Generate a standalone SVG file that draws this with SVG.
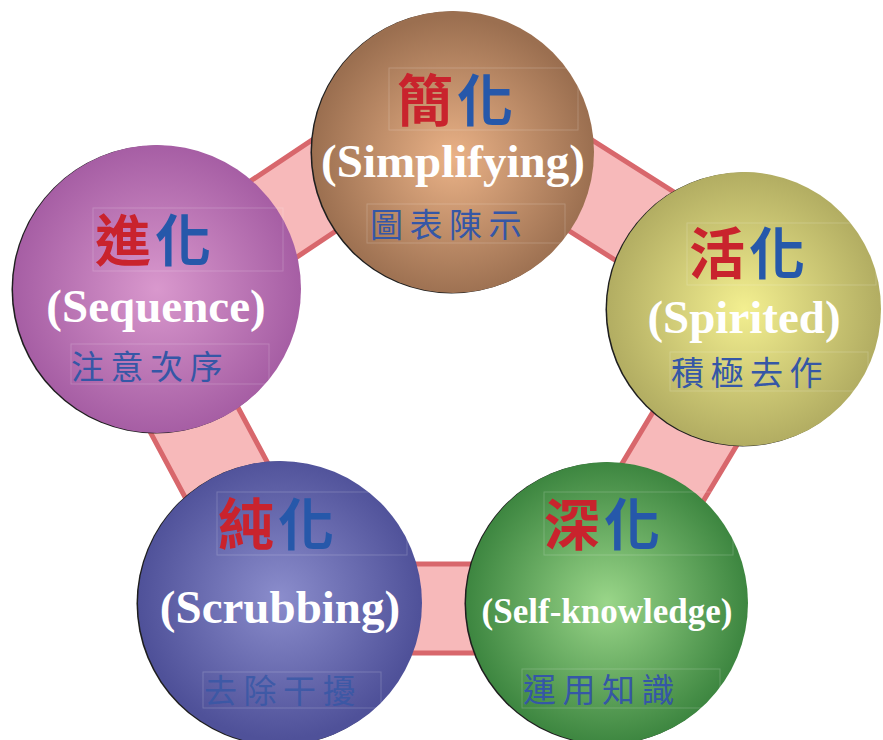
<svg xmlns="http://www.w3.org/2000/svg" width="883" height="740" viewBox="0 0 883 740">
<style>
.ring-edge{fill:none;stroke:#d8676c;stroke-width:94;stroke-linejoin:miter}
.ring-fill{fill:none;stroke:#f7b9ba;stroke-width:84;stroke-linejoin:miter}
.shadow{fill:#1e1e1e}
.title{font-family:"Noto Sans CJK TC","Noto Sans CJK SC",sans-serif;font-size:56px;font-weight:700;letter-spacing:4px}
.red{fill:#c9232d}
.blue{fill:#2658aa}
.en{font-family:"Liberation Serif","Times New Roman",serif;font-weight:700;fill:#ffffff;text-anchor:middle}
.sub{font-family:"Noto Sans CJK TC","Noto Sans CJK SC",sans-serif;font-size:33px;font-weight:400;letter-spacing:6.5px;fill:#3557a6}
.frame{fill:none;stroke:#ffffff;stroke-opacity:0.18;stroke-width:1}
</style>
<defs>
<radialGradient id="gBrown" cx="50%" cy="52%" r="50%">
<stop offset="0" stop-color="#eab287"/>
<stop offset="1" stop-color="#9b6f50"/>
</radialGradient>
<radialGradient id="gPurple" cx="50%" cy="50%" r="50%">
<stop offset="0" stop-color="#d998cd"/>
<stop offset="1" stop-color="#a65ea4"/>
</radialGradient>
<radialGradient id="gYellow" cx="50%" cy="50%" r="50%">
<stop offset="0" stop-color="#f3ef90"/>
<stop offset="1" stop-color="#b2ad62"/>
</radialGradient>
<radialGradient id="gBlue" cx="50%" cy="48%" r="50%">
<stop offset="0" stop-color="#8b8dcc"/>
<stop offset="1" stop-color="#4f5199"/>
</radialGradient>
<radialGradient id="gGreen" cx="50%" cy="50%" r="50%">
<stop offset="0" stop-color="#9ad689"/>
<stop offset="1" stop-color="#3d8640"/>
</radialGradient>
</defs>

<g id="connectors">
<polygon class="ring-edge" points="449,102 769,305 587,608.5 295,608.5 136,311"/>
<polygon class="ring-fill" points="449,102 769,305 587,608.5 295,608.5 136,311"/>
</g>

<g id="node-simplifying">
<circle class="shadow" cx="451.5" cy="152.5" r="141"/>
<circle cx="453" cy="152" r="141" fill="url(#gBrown)"/>
<rect class="frame" x="389" y="68" width="189" height="62"/>
<text class="title" x="397" y="121" letter-spacing="1"><tspan class="red">簡</tspan><tspan class="blue">化</tspan></text>
<text class="en" x="453" y="177" font-size="47">(Simplifying)</text>
<rect class="frame" x="367" y="204" width="198" height="39"/>
<text class="sub" x="370" y="237">圖表陳示</text>
</g>

<g id="node-sequence">
<circle class="shadow" cx="155.5" cy="289.5" r="144"/>
<circle cx="157" cy="289" r="144" fill="url(#gPurple)"/>
<rect class="frame" x="93" y="208" width="190" height="63"/>
<text class="title" x="95" y="261"><tspan class="red">進</tspan><tspan class="blue">化</tspan></text>
<text class="en" x="156" y="322" font-size="47">(Sequence)</text>
<rect class="frame" x="71" y="344" width="198" height="40"/>
<text class="sub" x="71" y="379">注意次序</text>
</g>

<g id="node-spirited">
<circle class="shadow" cx="742.5" cy="309.5" r="137"/>
<circle cx="744" cy="309" r="137" fill="url(#gYellow)"/>
<rect class="frame" x="687" y="223" width="189" height="62"/>
<text class="title" x="689" y="274"><tspan class="red">活</tspan><tspan class="blue">化</tspan></text>
<text class="en" x="744" y="333" font-size="47">(Spirited)</text>
<rect class="frame" x="670" y="352" width="198" height="39"/>
<text class="sub" x="671" y="385">積極去作</text>
</g>

<g id="node-scrubbing">
<circle class="shadow" cx="278.5" cy="603.5" r="142"/>
<circle cx="280" cy="603" r="142" fill="url(#gBlue)"/>
<rect class="frame" x="217" y="492" width="190" height="63"/>
<text class="title" x="218" y="545"><tspan class="red">純</tspan><tspan class="blue">化</tspan></text>
<text class="en" x="280" y="623" font-size="47">(Scrubbing)</text>
<rect class="frame" x="203" y="672" width="178" height="36"/>
<text class="sub" x="204" y="703" fill-opacity="0.8">去除干擾</text>
</g>

<g id="node-selfknowledge">
<circle class="shadow" cx="605.5" cy="603.5" r="141"/>
<circle cx="607" cy="603" r="141" fill="url(#gGreen)"/>
<rect class="frame" x="544" y="492" width="189" height="63"/>
<text class="title" x="544" y="545" letter-spacing="6"><tspan class="red">深</tspan><tspan class="blue">化</tspan></text>
<text class="en" x="607" y="623" font-size="35">(Self-knowledge)</text>
<rect class="frame" x="522" y="669" width="198" height="39"/>
<text class="sub" x="523" y="702">運用知識</text>
</g>
</svg>
